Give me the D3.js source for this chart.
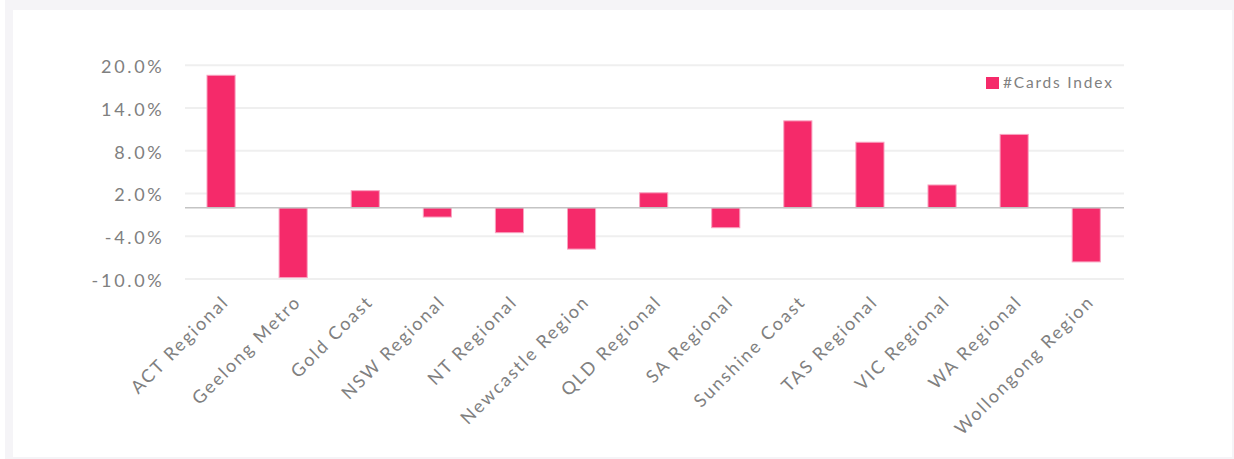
<!DOCTYPE html>
<html><head><meta charset="utf-8">
<script src="https://cdn.jsdelivr.net/npm/d3@7"></script>
<style>
html,body{margin:0;padding:0;background:#fff;}
svg{display:block;font-family:Lato, "Open Sans", sans-serif;}
</style></head>
<body>
<svg id="c" width="1234" height="459"></svg>
<script>
const categories = ["ACT Regional","Geelong Metro","Gold Coast","NSW Regional","NT Regional","Newcastle Region","QLD Regional","SA Regional","Sunshine Coast","TAS Regional","VIC Regional","WA Regional","Wollongong Region"];
const cardsIndex = [18.6,-9.8,2.4,-1.3,-3.5,-5.8,2.1,-2.8,12.2,9.2,3.2,10.3,-7.6];
const tickValues = [-10,-4,2,8,14,20];
const seriesName = "#Cards Index";

const svg = d3.select("#c");
svg.append("rect").attr("x",5).attr("y",0).attr("width",1229).attr("height",459).attr("fill","#f5f4f7");
svg.append("rect").attr("x",13).attr("y",10).attr("width",1219).attr("height",447).attr("fill","#fff");

const x = d3.scaleBand().domain(categories).range([185,1122.3]).paddingInner(0.61).paddingOuter(0.305);
const y = d3.scaleLinear().domain([-10,20]).range([279,65.3]);

// grid
svg.append("g").selectAll("line").data(tickValues).join("line")
  .attr("x1",185).attr("x2",1124).attr("y1",d=>y(d)).attr("y2",d=>y(d))
  .attr("stroke","#efefef").attr("stroke-width",2);

// y axis labels
const yAxis = d3.axisLeft(y).tickValues(tickValues).tickFormat(d=>d3.format(".1f")(d).replace("−","-")+"%").tickSize(0).tickPadding(0);
const gy = svg.append("g").attr("transform","translate(164.5,1.5)").call(yAxis);
gy.select(".domain").remove();
gy.selectAll("text").attr("fill","#808080").style("font-size","18px").style("font-family","Lato")
  .style("letter-spacing","2.7px");

// bars
svg.append("g").selectAll("rect").data(categories).join("rect")
  .attr("x",d=>x(d)).attr("width",x.bandwidth())
  .attr("y",(d,i)=>y(Math.max(0,cardsIndex[i])))
  .attr("height",(d,i)=>Math.abs(y(cardsIndex[i])-y(0)))
  .attr("fill","#f52a6a").attr("stroke","#f8a3c0").attr("stroke-width",1);

// zero line
svg.append("line").attr("x1",185).attr("x2",1124).attr("y1",y(0)).attr("y2",y(0))
  .attr("stroke","#c4c4c4").attr("stroke-width",1.5);

// x labels
const xAxis = d3.axisBottom(x).tickSize(0).tickPadding(0);
const gx = svg.append("g").attr("transform","translate(0,296)").call(xAxis);
gx.select(".domain").remove();
gx.selectAll("text").attr("fill","#808080").style("font-size","18px").style("font-family","Lato")
  .style("letter-spacing","2px")
  .attr("text-anchor","end").attr("dy",null).attr("y",0)
  .attr("transform","translate(9,7) rotate(-45)");

// legend
svg.append("rect").attr("x",986).attr("y",77).attr("width",13).attr("height",12).attr("fill","#f52a6a");
svg.append("text").attr("x",1003).attr("y",88).text(seriesName)
  .attr("fill","#808080").style("font-size","15.5px").style("font-family","Lato").style("letter-spacing","1.8px");
</script>
</body></html>
